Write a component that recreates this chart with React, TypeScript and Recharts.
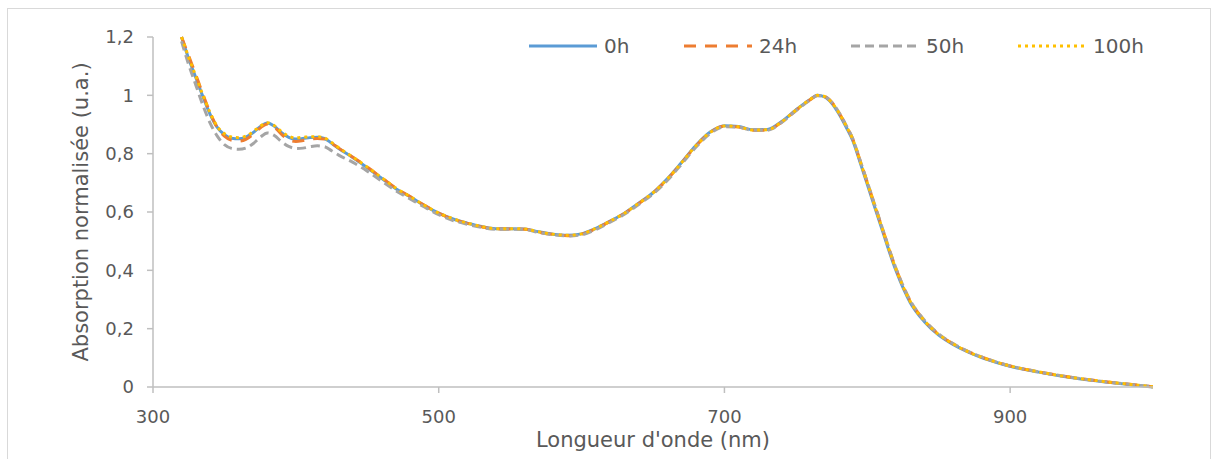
import { LineChart, Line, XAxis, YAxis, Legend, Label } from 'recharts';

const wavelengths = [
  320, 325, 330, 335, 340, 345, 350, 355, 360, 365, 370, 375, 380, 385, 390, 395, 400, 405, 410, 415, 420, 425, 430,
  440, 450, 460, 470, 480, 490, 500, 510, 520, 530, 540, 550, 560, 570, 580, 590, 600, 610, 620, 630, 640, 650, 660,
  670, 680, 690, 700, 710, 720, 730, 740, 750, 760, 765, 770, 775, 780, 785, 790, 795, 800, 810, 820, 830, 840, 850,
  860, 870, 880, 890, 900, 920, 940, 960, 980, 1000,
];

const abs0h = [
  1.2, 1.125, 1.06, 0.995, 0.935, 0.89, 0.865, 0.853, 0.851, 0.857, 0.872, 0.892, 0.905, 0.894, 0.872, 0.856, 0.85, 0.852, 0.855, 0.856, 0.852, 0.836, 0.818,
  0.786, 0.752, 0.716, 0.68, 0.652, 0.622, 0.596, 0.576, 0.562, 0.55, 0.543, 0.543, 0.542, 0.532, 0.524, 0.52, 0.525, 0.544, 0.569, 0.596, 0.63, 0.666, 0.714,
  0.77, 0.828, 0.874, 0.896, 0.893, 0.882, 0.883, 0.91, 0.95, 0.986, 1.0, 0.995, 0.974, 0.938, 0.893, 0.843, 0.77, 0.695, 0.545, 0.4, 0.29, 0.224, 0.178,
  0.146, 0.121, 0.101, 0.085, 0.071, 0.051, 0.034, 0.021, 0.01, 0.0,
];

const abs24h = [
  1.2, 1.135, 1.07, 1.003, 0.94, 0.89, 0.86, 0.846, 0.843, 0.849, 0.866, 0.888, 0.902, 0.891, 0.866, 0.848, 0.842, 0.845, 0.85, 0.852, 0.85, 0.836, 0.819,
  0.788, 0.754, 0.718, 0.682, 0.653, 0.623, 0.596, 0.575, 0.561, 0.549, 0.542, 0.542, 0.541, 0.531, 0.523, 0.519, 0.524, 0.543, 0.568, 0.595, 0.629, 0.665, 0.712,
  0.768, 0.826, 0.872, 0.894, 0.891, 0.88, 0.881, 0.908, 0.948, 0.985, 0.999, 0.996, 0.977, 0.942, 0.898, 0.848, 0.776, 0.702, 0.552, 0.407, 0.296, 0.228, 0.181,
  0.148, 0.123, 0.103, 0.086, 0.072, 0.052, 0.035, 0.022, 0.011, 0.001,
];

const abs50h = [
  1.185, 1.105, 1.035, 0.965, 0.905, 0.86, 0.831, 0.818, 0.815, 0.819, 0.834, 0.856, 0.871, 0.862, 0.841, 0.825, 0.818, 0.819, 0.824, 0.827, 0.824, 0.81, 0.795,
  0.77, 0.74, 0.706, 0.673, 0.645, 0.617, 0.591, 0.571, 0.558, 0.547, 0.541, 0.541, 0.54, 0.53, 0.522, 0.518, 0.522, 0.54, 0.565, 0.592, 0.626, 0.662, 0.708,
  0.764, 0.822, 0.869, 0.892, 0.891, 0.88, 0.88, 0.907, 0.947, 0.984, 0.999, 0.996, 0.977, 0.943, 0.899, 0.849, 0.777, 0.703, 0.553, 0.408, 0.297, 0.229, 0.182,
  0.149, 0.123, 0.103, 0.086, 0.072, 0.052, 0.035, 0.022, 0.011, 0.001,
];

const abs100h = [
  1.2, 1.13, 1.065, 1.0, 0.94, 0.893, 0.868, 0.857, 0.855, 0.86, 0.875, 0.894, 0.906, 0.896, 0.875, 0.86, 0.854, 0.856, 0.858, 0.858, 0.854, 0.838, 0.82,
  0.788, 0.754, 0.718, 0.682, 0.653, 0.623, 0.597, 0.577, 0.562, 0.55, 0.543, 0.543, 0.542, 0.532, 0.524, 0.52, 0.525, 0.544, 0.569, 0.596, 0.63, 0.666, 0.713,
  0.769, 0.827, 0.873, 0.895, 0.892, 0.881, 0.882, 0.909, 0.949, 0.986, 1.0, 0.996, 0.976, 0.941, 0.897, 0.847, 0.774, 0.7, 0.55, 0.405, 0.294, 0.227, 0.18,
  0.148, 0.122, 0.102, 0.086, 0.072, 0.052, 0.035, 0.022, 0.011, 0.001,
];

const xTicks = [300, 500, 700, 900];
const yTicks = [0, 0.2, 0.4, 0.6, 0.8, 1, 1.2];

const series = [
  { key: 'h0', name: '0h', color: '#5b9bd5', dash: undefined, width: 3, slot: 155 },
  { key: 'h24', name: '24h', color: '#ed7d31', dash: '12 9', width: 3, slot: 167 },
  { key: 'h50', name: '50h', color: '#a5a5a5', dash: '9 5', width: 3, slot: 167 },
  { key: 'h100', name: '100h', color: '#ffc000', dash: '3 4', width: 3, slot: 140 },
];

const data = wavelengths.map((wl, i) => ({
  wl,
  h0: abs0h[i],
  h24: abs24h[i],
  h50: abs50h[i],
  h100: abs100h[i],
}));

const font = "'DejaVu Sans', 'Open Sans', sans-serif";
const axisGrey = '#bfbfbf';
const textGrey = '#595959';

const fmt = (v: number) => String(v).replace('.', ',');

function LegendBox() {
  return (
    <div style={{ display: 'flex', alignItems: 'center', fontFamily: font, fontSize: 20, color: textGrey }}>
      {series.map((s) => (
        <div key={s.key} style={{ display: 'flex', alignItems: 'center', width: s.slot, flex: 'none' }}>
          <svg width={68} height={10}>
            <line x1={0} y1={5} x2={68} y2={5} stroke={s.color} strokeWidth={s.width} strokeDasharray={s.dash} />
          </svg>
          <span style={{ marginLeft: 7 }}>{s.name}</span>
        </div>
      ))}
    </div>
  );
}

export default function App() {
  return (
    <div
      style={{
        position: 'absolute',
        left: 7,
        top: 8,
        width: 1202,
        height: 460,
        border: '1px solid #d9d9d9',
        background: '#fff',
      }}
    >
      <div style={{ position: 'absolute', left: 0, top: 0 }}>
        <LineChart width={1202} height={450} data={data} margin={{ top: 28, right: 57, bottom: 0, left: 0 }}>
          <XAxis
            dataKey="wl"
            type="number"
            domain={[300, 1000]}
            ticks={xTicks}
            allowDataOverflow
            stroke={axisGrey}
            strokeWidth={1.5}
            tickSize={6}
            tickMargin={17}
            height={72}
            tick={{ fill: textGrey, fontSize: 18, fontFamily: font }}
          >
            <Label
              value="Longueur d'onde (nm)"
              position="insideBottom"
              offset={12}
              style={{ fill: textGrey, fontSize: 21, fontFamily: font }}
            />
          </XAxis>
          <YAxis
            type="number"
            domain={[0, 1.2]}
            ticks={yTicks}
            width={145}
            stroke={axisGrey}
            strokeWidth={1.5}
            tickSize={6}
            tickMargin={13}
            tickFormatter={fmt}
            tick={{ fill: textGrey, fontSize: 18, fontFamily: font }}
          >
            <Label
              value="Absorption normalisée (u.a.)"
              angle={-90}
              position="center"
              style={{ fill: textGrey, fontSize: 21, fontFamily: font, textAnchor: 'middle' }}
            />
          </YAxis>
          <Legend
            layout="horizontal"
            verticalAlign="middle"
            align="center"
            content={() => <LegendBox />}
            wrapperStyle={{ top: 25, left: 521, width: 680, height: 26 }}
          />
          {series.map((s) => (
            <Line
              key={s.key}
              type="monotone"
              dataKey={s.key}
              name={s.name}
              stroke={s.color}
              strokeWidth={s.width}
              strokeDasharray={s.dash}
              dot={false}
              activeDot={false}
              isAnimationActive={false}
            />
          ))}
        </LineChart>
      </div>
    </div>
  );
}
